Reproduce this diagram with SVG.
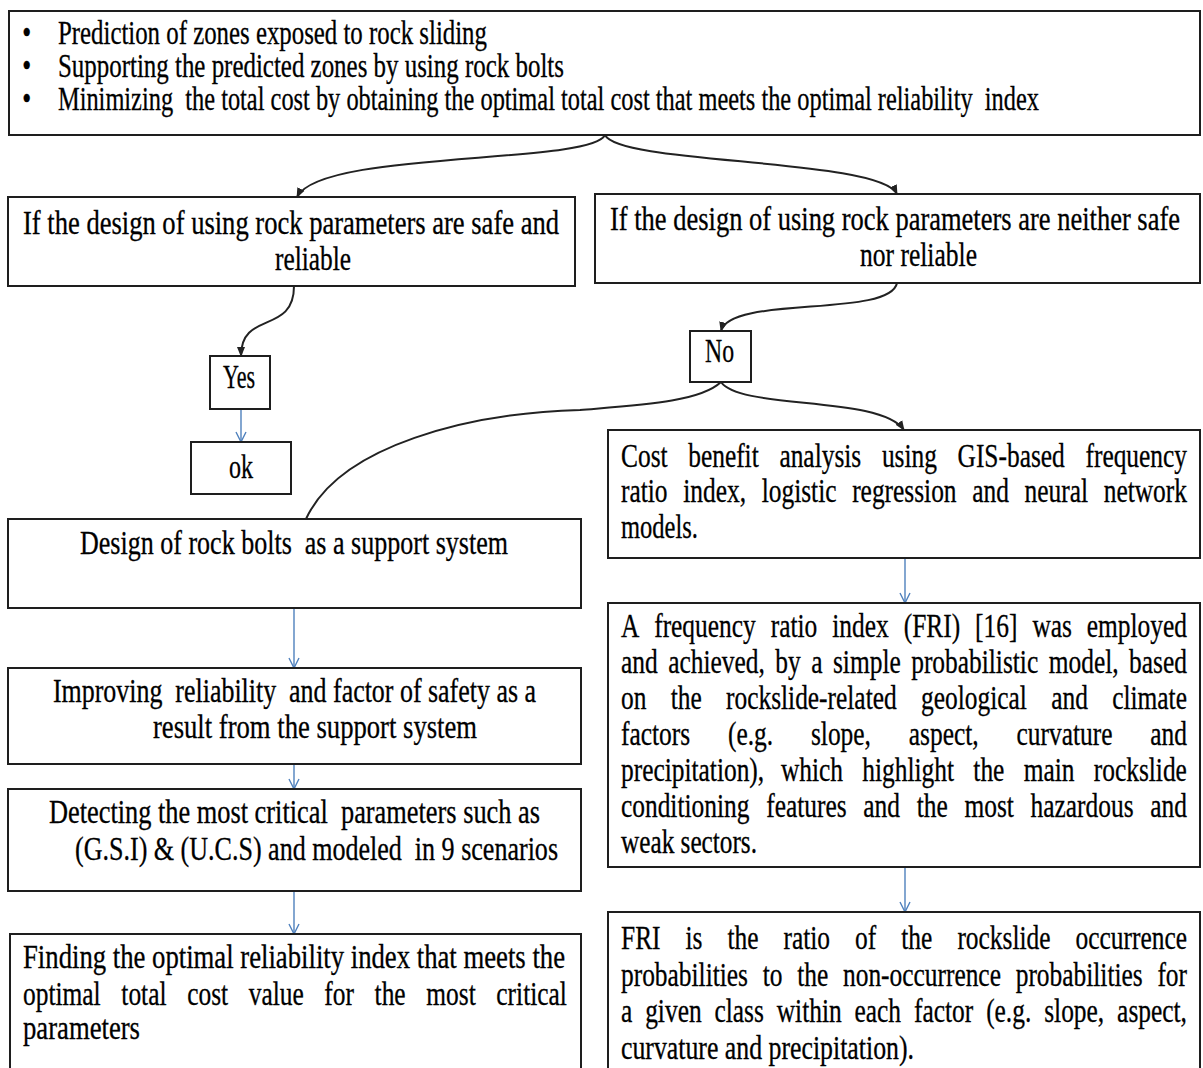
<svg xmlns="http://www.w3.org/2000/svg" width="1203" height="1068" viewBox="0 0 1203 1068">
<style>
.box{fill:#fff;stroke:#1e1e1e;stroke-width:2}
.t{font-family:"Liberation Serif","Times New Roman",serif;font-size:33px;fill:#000;stroke:#000;stroke-width:0.3}
.curve{fill:none;stroke:#222;stroke-width:2;marker-end:url(#ab)}
.plain{fill:none;stroke:#222;stroke-width:2}
.blue{fill:none;stroke:#4f81bd;stroke-width:1.4;marker-end:url(#vb)}
</style>
<defs>
<marker id="ab" viewBox="0 0 10 10" refX="9" refY="5" markerWidth="10" markerHeight="10" markerUnits="userSpaceOnUse" orient="auto"><path d="M0,1 L10,5 L0,9 z" fill="#222"/></marker>
<marker id="vb" viewBox="0 0 12 12" refX="11" refY="6" markerWidth="12" markerHeight="12" markerUnits="userSpaceOnUse" orient="auto"><path d="M1,1 L11,6 L1,11" fill="none" stroke="#4f81bd" stroke-width="1.4"/></marker>
</defs>
<rect width="1203" height="1068" fill="#fff"/>

<g id="connectors">
<path class="curve" d="M605,135 C590,165 320,150 297,197"/>
<path class="curve" d="M605,135 C620,165 880,158 897,194"/>
<path class="curve" d="M294,286 C294,335 241,310 241,356"/>
<path class="curve" d="M897,283 C890,318 730,295 721,331"/>
<path class="plain" d="M721,382 C700,402 640,405 580,410 C470,413 340,445 306,519"/>
<path class="curve" d="M721,382 C740,410 880,395 904,430"/>
<path class="blue" d="M241,409 L241,442"/>
<path class="blue" d="M294,608 L294,668"/>
<path class="blue" d="M294,764 L294,789"/>
<path class="blue" d="M294,891 L294,934"/>
<path class="blue" d="M905,558 L905,603"/>
<path class="blue" d="M905,867 L905,912"/>
</g>

<g id="goals">
<rect class="box" x="9" y="11" width="1191" height="124"/>
<g transform="scale(0.77 1)">
<text class="t" x="29" y="44">•</text>
<text class="t" x="29" y="77">•</text>
<text class="t" x="29" y="110">•</text>
<text class="t" x="75.3" y="44" textLength="557.1" lengthAdjust="spacingAndGlyphs">Prediction of zones exposed to rock sliding</text>
<text class="t" x="75.3" y="77" textLength="657.1" lengthAdjust="spacingAndGlyphs">Supporting the predicted zones by using rock bolts</text>
<text class="t" x="75.3" y="110" textLength="1274" lengthAdjust="spacingAndGlyphs" xml:space="preserve">Minimizing  the total cost by obtaining the optimal total cost that meets the optimal reliability  index</text>
</g>
</g>

<g id="safe">
<rect class="box" x="8" y="197" width="567" height="89"/>
<g transform="scale(0.77 1)">
<text class="t" x="29.9" y="234" textLength="696.1" lengthAdjust="spacingAndGlyphs">If the design of using rock parameters are safe and</text>
<text class="t" x="357.1" y="270" textLength="98.7" lengthAdjust="spacingAndGlyphs">reliable</text>
</g>
</g>

<g id="unsafe">
<rect class="box" x="595" y="194" width="605" height="89"/>
<g transform="scale(0.77 1)">
<text class="t" x="792.2" y="230" textLength="740.3" lengthAdjust="spacingAndGlyphs">If the design of using rock parameters are neither safe</text>
<text class="t" x="1116.9" y="266" textLength="151.9" lengthAdjust="spacingAndGlyphs">nor reliable</text>
</g>
</g>

<g id="yes">
<rect class="box" x="210" y="356" width="60" height="53"/>
<g transform="scale(0.77 1)">
<text class="t" x="289.6" y="388" textLength="41.6" lengthAdjust="spacingAndGlyphs">Yes</text>
</g>
</g>

<g id="ok">
<rect class="box" x="191" y="442" width="100" height="52"/>
<g transform="scale(0.77 1)">
<text class="t" x="297.4" y="478" textLength="31.2" lengthAdjust="spacingAndGlyphs">ok</text>
</g>
</g>

<g id="no">
<rect class="box" x="690" y="331" width="61" height="51"/>
<g transform="scale(0.77 1)">
<text class="t" x="915.6" y="362" textLength="37.7" lengthAdjust="spacingAndGlyphs">No</text>
</g>
</g>

<g id="cost">
<rect class="box" x="608" y="430" width="592" height="128"/>
<g transform="scale(0.77 1)">
<text class="t" y="467"><tspan x="806.5">Cost</tspan> <tspan x="893.8">benefit</tspan> <tspan x="1012.2">analysis</tspan> <tspan x="1145.3">using</tspan> <tspan x="1243.6">GIS-based</tspan> <tspan x="1409.7">frequency</tspan></text>
<text class="t" y="502"><tspan x="806.5">ratio</tspan> <tspan x="887.3">index,</tspan> <tspan x="989.2">logistic</tspan> <tspan x="1106.7">regression</tspan> <tspan x="1262.6">and</tspan> <tspan x="1330.6">neural</tspan> <tspan x="1433.4">network</tspan></text>
<text class="t" x="806.5" y="538" textLength="100" lengthAdjust="spacingAndGlyphs">models.</text>
</g>
</g>

<g id="design">
<rect class="box" x="8" y="519" width="573" height="89"/>
<g transform="scale(0.77 1)">
<text class="t" x="103.9" y="554" textLength="555.8" lengthAdjust="spacingAndGlyphs" xml:space="preserve">Design of rock bolts  as a support system</text>
</g>
</g>

<g id="improving">
<rect class="box" x="8" y="668" width="573" height="96"/>
<g transform="scale(0.77 1)">
<text class="t" x="68.8" y="702" textLength="627.3" lengthAdjust="spacingAndGlyphs" xml:space="preserve">Improving  reliability  and factor of safety as a</text>
<text class="t" x="198.7" y="738" textLength="420.8" lengthAdjust="spacingAndGlyphs">result from the support system</text>
</g>
</g>

<g id="detecting">
<rect class="box" x="8" y="789" width="573" height="102"/>
<g transform="scale(0.77 1)">
<text class="t" x="63.6" y="823" textLength="637.7" lengthAdjust="spacingAndGlyphs" xml:space="preserve">Detecting the most critical  parameters such as</text>
<text class="t" x="97.4" y="860" textLength="627.3" lengthAdjust="spacingAndGlyphs" xml:space="preserve">(G.S.I) &amp; (U.C.S) and modeled  in 9 scenarios</text>
</g>
</g>

<g id="finding">
<rect class="box" x="10" y="934" width="571" height="150"/>
<g transform="scale(0.77 1)">
<text class="t" x="29.9" y="968" textLength="703.9" lengthAdjust="spacingAndGlyphs">Finding the optimal reliability index that meets the</text>
<text class="t" y="1005"><tspan x="29.9">optimal</tspan> <tspan x="157.6">total</tspan> <tspan x="243.1">cost</tspan> <tspan x="323">value</tspan> <tspan x="421.2">for</tspan> <tspan x="486.5">the</tspan> <tspan x="553.7">most</tspan> <tspan x="644.6">critical</tspan></text>
<text class="t" x="29.9" y="1039" textLength="151.9" lengthAdjust="spacingAndGlyphs">parameters</text>
</g>
</g>

<g id="fri">
<rect class="box" x="608" y="603" width="592" height="264"/>
<g transform="scale(0.77 1)">
<text class="t" y="637"><tspan x="806.5">A</tspan> <tspan x="849.6">frequency</tspan> <tspan x="1001">ratio</tspan> <tspan x="1080.9">index</tspan> <tspan x="1173.7">(FRI)</tspan> <tspan x="1266.4">[16]</tspan> <tspan x="1340.8">was</tspan> <tspan x="1411.4">employed</tspan></text>
<text class="t" y="673"><tspan x="806.5">and</tspan> <tspan x="867.8">achieved,</tspan> <tspan x="1006.9">by</tspan> <tspan x="1053.5">a</tspan> <tspan x="1081.8">simple</tspan> <tspan x="1183.4">probabilistic</tspan> <tspan x="1362">model,</tspan> <tspan x="1466.3">based</tspan></text>
<text class="t" y="709"><tspan x="806.5">on</tspan> <tspan x="871">the</tspan> <tspan x="942.9">rockslide-related</tspan> <tspan x="1196.2">geological</tspan> <tspan x="1365.3">and</tspan> <tspan x="1444.4">climate</tspan></text>
<text class="t" y="745"><tspan x="806.5">factors</tspan> <tspan x="945.4">(e.g.</tspan> <tspan x="1053.2">slope,</tspan> <tspan x="1180.3">aspect,</tspan> <tspan x="1320.2">curvature</tspan> <tspan x="1493.9">and</tspan></text>
<text class="t" y="781"><tspan x="806.5">precipitation),</tspan> <tspan x="1014.2">which</tspan> <tspan x="1119.9">highlight</tspan> <tspan x="1264.1">the</tspan> <tspan x="1329.5">main</tspan> <tspan x="1420.5">rockslide</tspan></text>
<text class="t" y="817"><tspan x="806.5">conditioning</tspan> <tspan x="995.1">features</tspan> <tspan x="1121.2">and</tspan> <tspan x="1190.5">the</tspan> <tspan x="1252.6">most</tspan> <tspan x="1338.4">hazardous</tspan> <tspan x="1493.9">and</tspan></text>
<text class="t" x="806.5" y="853" textLength="176.6" lengthAdjust="spacingAndGlyphs">weak sectors.</text>
</g>
</g>

<g id="fri-def">
<rect class="box" x="608" y="912" width="592" height="170"/>
<g transform="scale(0.77 1)">
<text class="t" y="949"><tspan x="806.5">FRI</tspan> <tspan x="890.3">is</tspan> <tspan x="944.7">the</tspan> <tspan x="1017.5">ratio</tspan> <tspan x="1110.5">of</tspan> <tspan x="1170.5">the</tspan> <tspan x="1243.4">rockslide</tspan> <tspan x="1396.9">occurrence</tspan></text>
<text class="t" y="986"><tspan x="806.5">probabilities</tspan> <tspan x="990.5">to</tspan> <tspan x="1035.3">the</tspan> <tspan x="1094.8">non-occurrence</tspan> <tspan x="1319.1">probabilities</tspan> <tspan x="1503.1">for</tspan></text>
<text class="t" y="1022"><tspan x="806.5">a</tspan> <tspan x="837.9">given</tspan> <tspan x="927.9">class</tspan> <tspan x="1008.8">within</tspan> <tspan x="1109.8">each</tspan> <tspan x="1187">factor</tspan> <tspan x="1280.7">(e.g.</tspan> <tspan x="1356.1">slope,</tspan> <tspan x="1450.8">aspect,</tspan></text>
<text class="t" x="806.5" y="1059" textLength="380.5" lengthAdjust="spacingAndGlyphs">curvature and precipitation).</text>
</g>
</g>
</svg>
